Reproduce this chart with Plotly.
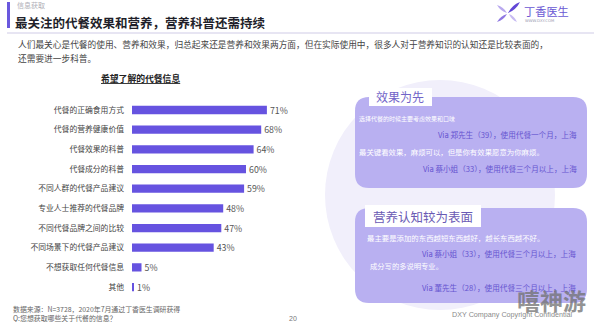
import plotly.graph_objects as go

# ---------------- data ----------------
categories = ["代餐的正确食用方式", "代餐的营养健康价值", "代餐效果的科普", "代餐成分的科普",
              "不同人群的代餐产品建议", "专业人士推荐的代餐品牌", "不同代餐品牌之间的比较",
              "不同场景下的代餐产品建议", "不想获取任何代餐信息", "其他"]
values = [71, 68, 64, 60, 59, 48, 47, 43, 5, 1]
value_labels = [f"{v}%" for v in values]

W, H = 594, 322
FONT = "Noto Sans CJK SC"
PURPLE = "#6653e0"
BOX = "#b9b0f1"


def X(p):
    return p / W


def Y(p):
    return 1 - p / H


def rrect(x0, y0, x1, y1, r):
    return (f"M {X(x0+r)},{Y(y0)} L {X(x1-r)},{Y(y0)} Q {X(x1)},{Y(y0)} {X(x1)},{Y(y0+r)} "
            f"L {X(x1)},{Y(y1-r)} Q {X(x1)},{Y(y1)} {X(x1-r)},{Y(y1)} "
            f"L {X(x0+r)},{Y(y1)} Q {X(x0)},{Y(y1)} {X(x0)},{Y(y1-r)} "
            f"L {X(x0)},{Y(y0+r)} Q {X(x0)},{Y(y0)} {X(x0+r)},{Y(y0)} Z")


def leaf(ax, ay, bx, by, w):
    mx, my = (ax + bx) / 2, (ay + by) / 2
    dx, dy = bx - ax, by - ay
    L = (dx * dx + dy * dy) ** 0.5
    px_, py_ = -dy / L * w, dx / L * w
    return (f"M {X(ax)},{Y(ay)} Q {X(mx+px_)},{Y(my+py_)} {X(bx)},{Y(by)} "
            f"Q {X(mx-px_)},{Y(my-py_)} {X(ax)},{Y(ay)} Z")


n = len(categories)
row = 19.67
top = 110 - row / 2
bot = top + row * n

fig = go.Figure()
fig.add_trace(go.Bar(
    y=categories, x=values, orientation="h",
    marker=dict(color=PURPLE, line=dict(width=0)),
    width=0.42,
    text=value_labels, textposition="outside", constraintext="none",
    textfont=dict(family=FONT, size=8.8, color="#555555"),
    cliponaxis=False, hoverinfo="skip",
))

shapes = []
# faint background circle
shapes.append(dict(type="circle", xref="paper", yref="paper",
                   x0=X(325), x1=X(555), y0=Y(80), y1=Y(310),
                   fillcolor="#f1effb", line=dict(width=0), layer="below"))
# header bar and rule
shapes.append(dict(type="rect", xref="paper", yref="paper", x0=X(7), x1=X(10), y0=Y(2), y1=Y(28),
                   fillcolor="#6a58de", line=dict(width=0)))
shapes.append(dict(type="line", xref="paper", yref="paper", x0=X(7), x1=X(594), y0=Y(33), y1=Y(33),
                   line=dict(color="#cfcbe6", width=1)))
# boxes
shapes.append(dict(type="path", path=rrect(355, 97, 587, 188, 14), xref="paper", yref="paper",
                   fillcolor=BOX, line=dict(width=0)))
shapes.append(dict(type="rect", xref="paper", yref="paper", x0=X(369), x1=X(432), y0=Y(88), y1=Y(106),
                   fillcolor="white", line=dict(width=0)))
shapes.append(dict(type="path", path=rrect(355, 208, 587, 303, 14), xref="paper", yref="paper",
                   fillcolor=BOX, line=dict(width=0)))
shapes.append(dict(type="rect", xref="paper", yref="paper", x0=X(365), x1=X(481), y0=Y(205), y1=Y(227),
                   fillcolor="white", line=dict(width=0)))
# logo leaves
for (ax, ay, bx, by, w, c) in [(508, 13, 520, 2, 3.2, "#6247d6"), (507, 13, 497, 5, 2.6, "#b9a9ef"),
                               (507, 14, 497, 22, 2.6, "#8f78e2"), (509, 14, 517, 22, 2.4, "#c7baf2")]:
    shapes.append(dict(type="path", path=leaf(ax, ay, bx, by, w), xref="paper", yref="paper",
                       fillcolor=c, line=dict(width=0)))

ann = []


def T(x, y, text, size, color="#444444", anchor="left", bold=False, family=FONT, **kw):
    ann.append(dict(x=X(x), y=Y(y), xref="paper", yref="paper", text=f"<b>{text}</b>" if bold else text,
                    showarrow=False, xanchor=anchor, yanchor="middle",
                    font=dict(family=family, size=size, color=color, **kw)))


T(15, 5, "信息获取", 7, "#b0b0b8")
T(13, 22, "最关注的代餐效果和营养，营养科普还需持续", 12.5, "#1f1f2a", bold=True)
T(522, 11, "丁香医生", 11.2, "#6a58d4")
T(523, 20, "WWW.DXY.COM", 3.8, "#9a9ab0", family="DejaVu Sans")
T(16, 44, "人们最关心是代餐的使用、营养和效果，归总起来还是营养和效果两方面，但在实际使用中，很多人对于营养知识的认知还是比较表面的，",
  8.7, "#444444")
T(16, 58, "还需要进一步科普。", 8.7, "#444444")
T(140, 78, "希望了解的代餐信息", 8.8, "#222222", anchor="center", bold=True, lineposition="under")

# box 1
T(400, 96, "效果为先", 12, "#7264c8", anchor="center")
T(357, 118, "选择代餐的时候主要考虑效果和口味", 6, "white")
T(579, 134, "Via 郑先生（39），使用代餐一个月，上海", 7.6, "#6654d0", anchor="right")
T(357, 151, "最关键看效果，麻烦可以，但是你有效果愿意为你麻烦。", 7.4, "white")
T(579, 168, "Via 蔡小姐（33），使用代餐三个月以上，上海", 7.6, "#6654d0", anchor="right")
# box 2
T(423, 216, "营养认知较为表面", 12.5, "#6a5ab4", anchor="center")
T(365, 238, "最主要是添加的东西越短东西越好，越长东西越不好。", 7.4, "white")
T(578, 253, "Via 蔡小姐（33），使用代餐三个月以上，上海", 7.6, "#6654d0", anchor="right")
T(368, 266, "成分写的多说明专业。", 7.3, "white")
T(578, 287, "Via 董先生（28），使用代餐三个月以上，上海", 7.6, "#6654d0", anchor="right")

# footer
T(11, 309, "数据来源：N=3728，2020年7月通过丁香医生调研获得", 6.9, "#666666")
T(11, 318, "Q:您想获取哪些关于代餐的信息？", 6.9, "#666666")
T(293, 318, "20", 7, "#777777", anchor="center", family="Liberation Sans")
T(575, 314, "DXY Company Copyright Confidential", 7.2, "#8a8a8a", anchor="right", family="Liberation Sans")
ann.append(dict(x=X(551), y=Y(300), xref="paper", yref="paper", text="<b>嘻神游</b>", showarrow=False,
                xanchor="center", yanchor="middle", opacity=0.75,
                font=dict(family=FONT, size=23, color="#707070")))

fig.update_layout(
    width=W, height=H, margin=dict(l=0, r=0, t=0, b=0),
    paper_bgcolor="white", plot_bgcolor="rgba(0,0,0,0)",
    showlegend=False, shapes=shapes, annotations=ann,
    xaxis=dict(domain=[X(132), X(322)], range=[0, 100], visible=False, fixedrange=True),
    yaxis=dict(domain=[Y(bot), Y(top)], range=[n - 0.5, -0.5], showgrid=False, zeroline=False,
               showline=False, ticks="", ticklabelstandoff=7,
               tickfont=dict(family=FONT, size=7.8, color="#444444"), fixedrange=True),
    font=dict(family=FONT),
)

fig.write_html("out.html")
